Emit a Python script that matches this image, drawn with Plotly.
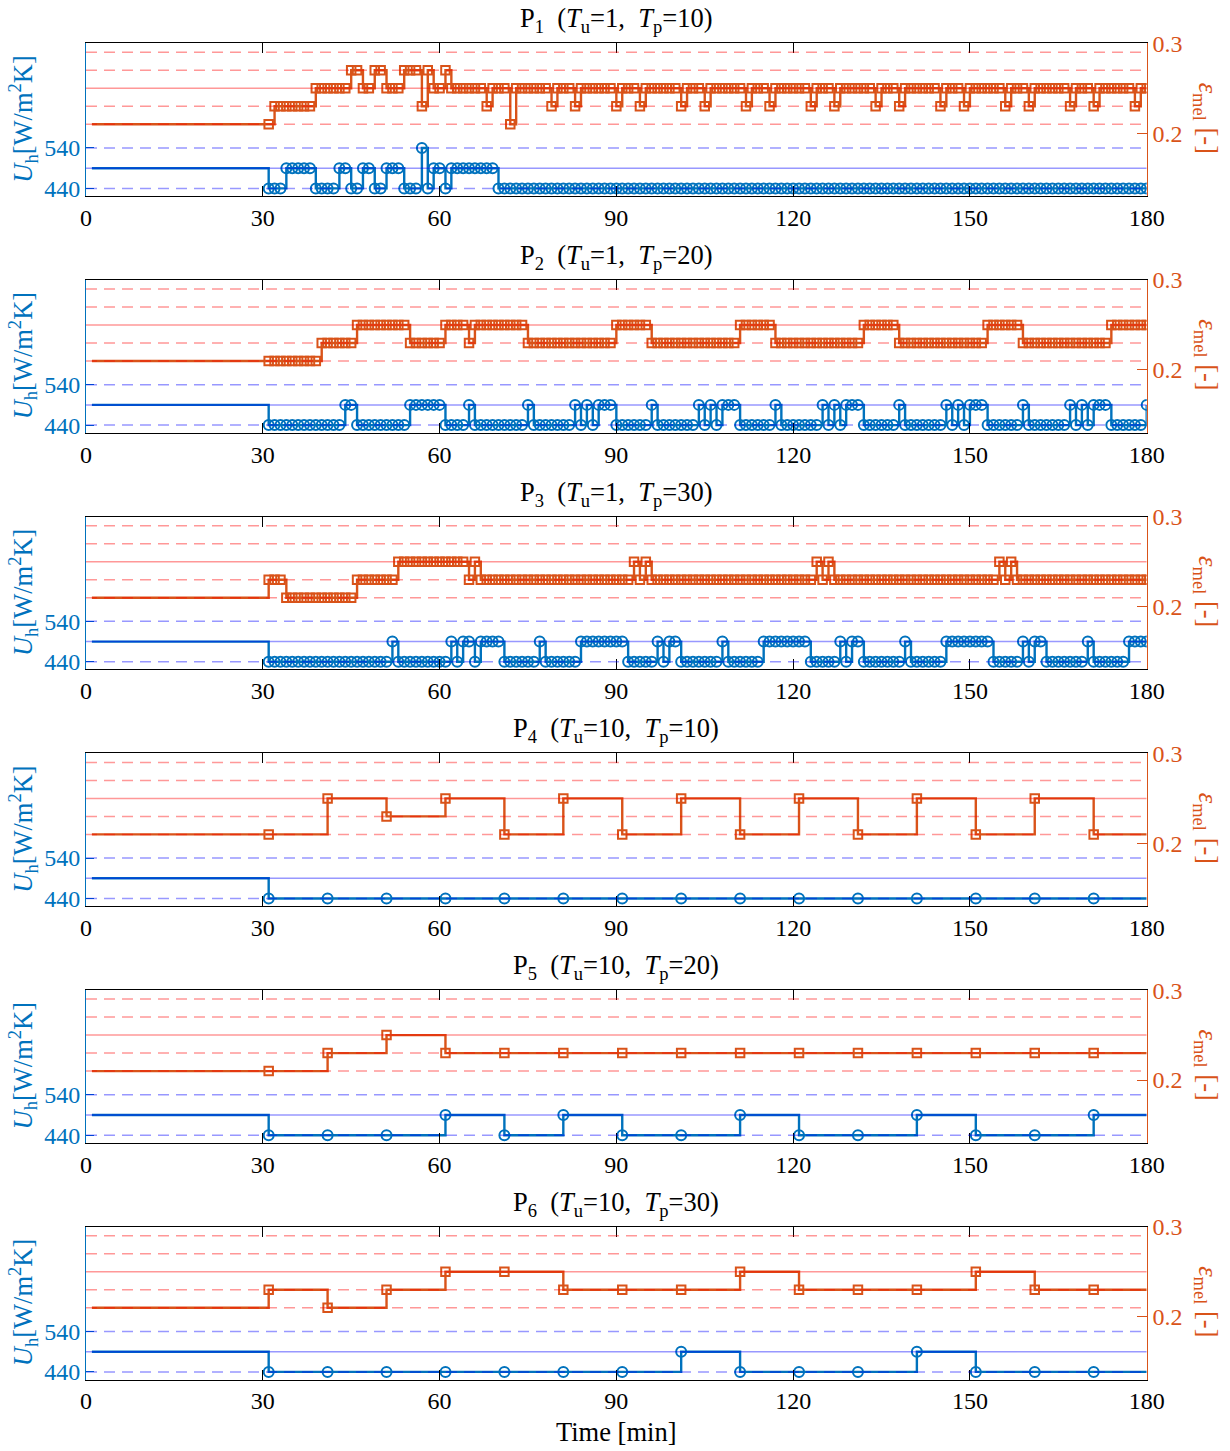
import plotly.graph_objects as go

W, H = 1230, 1451

# ---------------- data ----------------
t_start = 1            # first time stamp of the pre-control segment [min]
t_end = 180            # last time on the axis [min]
t_fast = list(range(31, 181))       # sampling times, T_u = 1 min
t_slow = list(range(31, 172, 10))   # sampling times, T_u = 10 min

U_init = 490      # U_h before control starts
eps_init = 0.21   # eps_mel before control starts

Tu = [1, 1, 1, 10, 10, 10]
Tp = [10, 20, 30, 10, 20, 30]

U_p1 = [440, 440, 440, 490, 490, 490, 490, 490, 440, 440,
        440, 440, 490, 490, 440, 440, 490, 490, 440, 440,
        490, 490, 490, 440, 440, 440, 540, 440, 490, 490,
        440, 490, 490, 490, 490, 490, 490, 490, 490, 440,
        440, 440, 440, 440, 440, 440, 440, 440, 440, 440,
        440, 440, 440, 440, 440, 440, 440, 440, 440, 440,
        440, 440, 440, 440, 440, 440, 440, 440, 440, 440,
        440, 440, 440, 440, 440, 440, 440, 440, 440, 440,
        440, 440, 440, 440, 440, 440, 440, 440, 440, 440,
        440, 440, 440, 440, 440, 440, 440, 440, 440, 440,
        440, 440, 440, 440, 440, 440, 440, 440, 440, 440,
        440, 440, 440, 440, 440, 440, 440, 440, 440, 440,
        440, 440, 440, 440, 440, 440, 440, 440, 440, 440,
        440, 440, 440, 440, 440, 440, 440, 440, 440, 440,
        440, 440, 440, 440, 440, 440, 440, 440, 440, 440]
eps_p1 = [0.21, 0.23, 0.23, 0.23, 0.23, 0.23, 0.23, 0.23, 0.25, 0.25,
          0.25, 0.25, 0.25, 0.25, 0.27, 0.27, 0.25, 0.25, 0.27, 0.27,
          0.25, 0.25, 0.25, 0.27, 0.27, 0.27, 0.23, 0.27, 0.25, 0.25,
          0.27, 0.25, 0.25, 0.25, 0.25, 0.25, 0.25, 0.23, 0.25, 0.25,
          0.25, 0.21, 0.25, 0.25, 0.25, 0.25, 0.25, 0.25, 0.23, 0.25,
          0.25, 0.25, 0.23, 0.25, 0.25, 0.25, 0.25, 0.25, 0.25, 0.23,
          0.25, 0.25, 0.25, 0.23, 0.25, 0.25, 0.25, 0.25, 0.25, 0.25,
          0.23, 0.25, 0.25, 0.25, 0.23, 0.25, 0.25, 0.25, 0.25, 0.25,
          0.25, 0.23, 0.25, 0.25, 0.25, 0.23, 0.25, 0.25, 0.25, 0.25,
          0.25, 0.25, 0.23, 0.25, 0.25, 0.25, 0.23, 0.25, 0.25, 0.25,
          0.25, 0.25, 0.25, 0.23, 0.25, 0.25, 0.25, 0.23, 0.25, 0.25,
          0.25, 0.25, 0.25, 0.25, 0.23, 0.25, 0.25, 0.25, 0.23, 0.25,
          0.25, 0.25, 0.25, 0.25, 0.25, 0.23, 0.25, 0.25, 0.25, 0.23,
          0.25, 0.25, 0.25, 0.25, 0.25, 0.25, 0.23, 0.25, 0.25, 0.25,
          0.23, 0.25, 0.25, 0.25, 0.25, 0.25, 0.25, 0.23, 0.25, 0.25]

U_p2 = [440, 440, 440, 440, 440, 440, 440, 440, 440, 440,
        440, 440, 440, 490, 490, 440, 440, 440, 440, 440,
        440, 440, 440, 440, 490, 490, 490, 490, 490, 490,
        440, 440, 440, 440, 490, 440, 440, 440, 440, 440,
        440, 440, 440, 440, 490, 440, 440, 440, 440, 440,
        440, 440, 490, 440, 490, 440, 490, 490, 490, 440,
        440, 440, 440, 440, 440, 490, 440, 440, 440, 440,
        440, 440, 440, 490, 440, 490, 440, 490, 490, 490,
        440, 440, 440, 440, 440, 440, 490, 440, 440, 440,
        440, 440, 440, 440, 490, 440, 490, 440, 490, 490,
        490, 440, 440, 440, 440, 440, 440, 490, 440, 440,
        440, 440, 440, 440, 440, 490, 440, 490, 440, 490,
        490, 490, 440, 440, 440, 440, 440, 440, 490, 440,
        440, 440, 440, 440, 440, 440, 490, 440, 490, 440,
        490, 490, 490, 440, 440, 440, 440, 440, 440, 490]
eps_p2 = [0.21, 0.21, 0.21, 0.21, 0.21, 0.21, 0.21, 0.21, 0.21, 0.23,
          0.23, 0.23, 0.23, 0.23, 0.23, 0.25, 0.25, 0.25, 0.25, 0.25,
          0.25, 0.25, 0.25, 0.25, 0.23, 0.23, 0.23, 0.23, 0.23, 0.23,
          0.25, 0.25, 0.25, 0.25, 0.23, 0.25, 0.25, 0.25, 0.25, 0.25,
          0.25, 0.25, 0.25, 0.25, 0.23, 0.23, 0.23, 0.23, 0.23, 0.23,
          0.23, 0.23, 0.23, 0.23, 0.23, 0.23, 0.23, 0.23, 0.23, 0.25,
          0.25, 0.25, 0.25, 0.25, 0.25, 0.23, 0.23, 0.23, 0.23, 0.23,
          0.23, 0.23, 0.23, 0.23, 0.23, 0.23, 0.23, 0.23, 0.23, 0.23,
          0.25, 0.25, 0.25, 0.25, 0.25, 0.25, 0.23, 0.23, 0.23, 0.23,
          0.23, 0.23, 0.23, 0.23, 0.23, 0.23, 0.23, 0.23, 0.23, 0.23,
          0.23, 0.25, 0.25, 0.25, 0.25, 0.25, 0.25, 0.23, 0.23, 0.23,
          0.23, 0.23, 0.23, 0.23, 0.23, 0.23, 0.23, 0.23, 0.23, 0.23,
          0.23, 0.23, 0.25, 0.25, 0.25, 0.25, 0.25, 0.25, 0.23, 0.23,
          0.23, 0.23, 0.23, 0.23, 0.23, 0.23, 0.23, 0.23, 0.23, 0.23,
          0.23, 0.23, 0.23, 0.25, 0.25, 0.25, 0.25, 0.25, 0.25, 0.25]

U_p3 = [440, 440, 440, 440, 440, 440, 440, 440, 440, 440,
        440, 440, 440, 440, 440, 440, 440, 440, 440, 440,
        440, 490, 440, 440, 440, 440, 440, 440, 440, 440,
        440, 490, 440, 490, 490, 440, 490, 490, 490, 490,
        440, 440, 440, 440, 440, 440, 490, 440, 440, 440,
        440, 440, 440, 490, 490, 490, 490, 490, 490, 490,
        490, 440, 440, 440, 440, 440, 490, 440, 490, 490,
        440, 440, 440, 440, 440, 440, 440, 490, 440, 440,
        440, 440, 440, 440, 490, 490, 490, 490, 490, 490,
        490, 490, 440, 440, 440, 440, 440, 490, 440, 490,
        490, 440, 440, 440, 440, 440, 440, 440, 490, 440,
        440, 440, 440, 440, 440, 490, 490, 490, 490, 490,
        490, 490, 490, 440, 440, 440, 440, 440, 490, 440,
        490, 490, 440, 440, 440, 440, 440, 440, 440, 490,
        440, 440, 440, 440, 440, 440, 490, 490, 490, 490]
eps_p3 = [0.23, 0.23, 0.23, 0.21, 0.21, 0.21, 0.21, 0.21, 0.21, 0.21,
          0.21, 0.21, 0.21, 0.21, 0.21, 0.23, 0.23, 0.23, 0.23, 0.23,
          0.23, 0.23, 0.25, 0.25, 0.25, 0.25, 0.25, 0.25, 0.25, 0.25,
          0.25, 0.25, 0.25, 0.25, 0.23, 0.25, 0.23, 0.23, 0.23, 0.23,
          0.23, 0.23, 0.23, 0.23, 0.23, 0.23, 0.23, 0.23, 0.23, 0.23,
          0.23, 0.23, 0.23, 0.23, 0.23, 0.23, 0.23, 0.23, 0.23, 0.23,
          0.23, 0.23, 0.25, 0.23, 0.25, 0.23, 0.23, 0.23, 0.23, 0.23,
          0.23, 0.23, 0.23, 0.23, 0.23, 0.23, 0.23, 0.23, 0.23, 0.23,
          0.23, 0.23, 0.23, 0.23, 0.23, 0.23, 0.23, 0.23, 0.23, 0.23,
          0.23, 0.23, 0.23, 0.25, 0.23, 0.25, 0.23, 0.23, 0.23, 0.23,
          0.23, 0.23, 0.23, 0.23, 0.23, 0.23, 0.23, 0.23, 0.23, 0.23,
          0.23, 0.23, 0.23, 0.23, 0.23, 0.23, 0.23, 0.23, 0.23, 0.23,
          0.23, 0.23, 0.23, 0.23, 0.25, 0.23, 0.25, 0.23, 0.23, 0.23,
          0.23, 0.23, 0.23, 0.23, 0.23, 0.23, 0.23, 0.23, 0.23, 0.23,
          0.23, 0.23, 0.23, 0.23, 0.23, 0.23, 0.23, 0.23, 0.23, 0.23]

U_p4 = [440, 440, 440, 440, 440, 440, 440, 440, 440, 440, 440, 440, 440, 440, 440]
eps_p4 = [0.21, 0.25, 0.23, 0.25, 0.21, 0.25, 0.21, 0.25, 0.21, 0.25, 0.21, 0.25, 0.21, 0.25, 0.21]

U_p5 = [440, 440, 440, 490, 440, 490, 440, 440, 490, 440, 440, 490, 440, 440, 490]
eps_p5 = [0.21, 0.23, 0.25, 0.23, 0.23, 0.23, 0.23, 0.23, 0.23, 0.23, 0.23, 0.23, 0.23, 0.23, 0.23]

U_p6 = [440, 440, 440, 440, 440, 440, 440, 490, 440, 440, 440, 490, 440, 440, 440]
eps_p6 = [0.23, 0.21, 0.23, 0.25, 0.25, 0.23, 0.23, 0.23, 0.25, 0.23, 0.23, 0.23, 0.25, 0.23, 0.23]

U_series = [U_p1, U_p2, U_p3, U_p4, U_p5, U_p6]
eps_series = [eps_p1, eps_p2, eps_p3, eps_p4, eps_p5, eps_p6]

# reference levels
U_ref_dashed = [440, 540]
U_ref_nominal = 490
eps_ref_dashed = [0.21, 0.23, 0.27, 0.29]
eps_ref_nominal = 0.25

x_ticks = [0, 30, 60, 90, 120, 150, 180]
U_ticks = [440, 540]
eps_ticks = [0.2, 0.3]
eps_ticktext = ["0.2", "0.3"]

# ---------------- styling ----------------
BLUE = "#0072BD"
ORANGE = "#D95319"
FONT = "Liberation Serif, Times New Roman, serif"
FS_TICK = 24
FS_TEXT = 26.5
NB = "\u00a0"

x_left_px, x_right_px = 86.0, 1146.7
top0, bot0, step = 43.3, 196.0, 236.7
U_range = [421.2, 798.9]
eps_range = [0.1303, 0.3]

fig = go.Figure()
layout = dict(width=W, height=H, autosize=False,
              margin=dict(l=0, r=0, t=0, b=0, pad=0, autoexpand=False),
              paper_bgcolor="white", plot_bgcolor="white", showlegend=False,
              font=dict(family=FONT, size=FS_TICK, color="black"))
shapes = []
annotations = []

for i in range(6):
    n = i + 1
    xid = "x" if n == 1 else f"x{n}"
    xname = "xaxis" if n == 1 else f"xaxis{n}"
    yl, yr = 2 * i + 1, 2 * i + 2
    ylid = "y" if yl == 1 else f"y{yl}"
    ylname = "yaxis" if yl == 1 else f"yaxis{yl}"
    yrid, yrname = f"y{yr}", f"yaxis{yr}"

    top_px = top0 + step * i
    bot_px = bot0 + step * i
    d0, d1 = 1 - bot_px / H, 1 - top_px / H

    t_samp = t_fast if Tu[i] == 1 else t_slow
    U = U_series[i]
    eps = eps_series[i]

    # stair lines (pre-control segment + controlled samples + hold to the end)
    fig.add_trace(go.Scatter(x=[t_start] + t_samp + [t_end], y=[U_init] + U + [U[-1]],
                             mode="lines", line=dict(color=BLUE, width=2.4, shape="hv"),
                             xaxis=xid, yaxis=ylid, hoverinfo="skip"))
    fig.add_trace(go.Scatter(x=t_samp, y=U, mode="markers",
                             marker=dict(symbol="circle-open", size=10, color=BLUE,
                                         line=dict(width=2, color=BLUE)),
                             xaxis=xid, yaxis=ylid, hoverinfo="skip"))
    fig.add_trace(go.Scatter(x=[t_start] + t_samp + [t_end], y=[eps_init] + eps + [eps[-1]],
                             mode="lines", line=dict(color=ORANGE, width=2.4, shape="hv"),
                             xaxis=xid, yaxis=yrid, hoverinfo="skip"))
    fig.add_trace(go.Scatter(x=t_samp, y=eps, mode="markers",
                             marker=dict(symbol="square-open", size=8.5, color=ORANGE,
                                         line=dict(width=2, color=ORANGE)),
                             xaxis=xid, yaxis=yrid, hoverinfo="skip"))

    layout[xname] = dict(domain=[x_left_px / W, x_right_px / W], anchor=ylid,
                         range=[0, 180], tickvals=x_ticks, ticks="inside", ticklen=10,
                         tickcolor="black", linecolor="black", linewidth=1, showline=True,
                         mirror="ticks", showgrid=False, zeroline=False, automargin=False,
                         tickfont=dict(family=FONT, size=FS_TICK, color="black"),
                         ticklabelstandoff=0)
    layout[ylname] = dict(domain=[d0, d1], anchor=xid, range=U_range, tickvals=U_ticks,
                          ticks="inside", ticklen=8, tickcolor=BLUE, linecolor=BLUE,
                          linewidth=1, showline=True, showgrid=False, zeroline=False,
                          automargin=False,
                          tickfont=dict(family=FONT, size=FS_TICK, color=BLUE))
    layout[yrname] = dict(domain=[d0, d1], anchor=xid, overlaying=ylid, side="right",
                          range=eps_range, tickvals=eps_ticks, ticktext=eps_ticktext,
                          ticks="inside", ticklen=10, tickcolor=ORANGE, linecolor=ORANGE,
                          linewidth=1, showline=True, showgrid=False, zeroline=False,
                          automargin=False,
                          tickfont=dict(family=FONT, size=FS_TICK, color=ORANGE))

    # reference levels (drawn on top, semi-transparent like the original)
    for v in eps_ref_dashed:
        shapes.append(dict(type="line", xref=xid, yref=yrid, x0=0, x1=180, y0=v, y1=v,
                           layer="above", opacity=0.4,
                           line=dict(color="red", width=1.5, dash="11px,7px")))
    shapes.append(dict(type="line", xref=xid, yref=yrid, x0=0, x1=180,
                       y0=eps_ref_nominal, y1=eps_ref_nominal, layer="above", opacity=0.4,
                       line=dict(color="red", width=1.5)))
    for v in U_ref_dashed:
        shapes.append(dict(type="line", xref=xid, yref=ylid, x0=0, x1=180, y0=v, y1=v,
                           layer="above", opacity=0.4,
                           line=dict(color="blue", width=1.5, dash="11px,7px")))
    shapes.append(dict(type="line", xref=xid, yref=ylid, x0=0, x1=180,
                       y0=U_ref_nominal, y1=U_ref_nominal, layer="above", opacity=0.4,
                       line=dict(color="blue", width=1.5)))

    # panel title
    title = (f"P<sub>{n}</sub>{NB}{NB}(<i>T</i><sub>u</sub>={Tu[i]},{NB}{NB}"
             f"<i>T</i><sub>p</sub>={Tp[i]})")
    annotations.append(dict(text=title, xref="paper", yref="paper",
                            x=(x_left_px + x_right_px) / 2 / W, y=1 - (top_px - 23) / H,
                            xanchor="center", yanchor="middle", showarrow=False,
                            font=dict(family=FONT, size=FS_TEXT, color="black")))
    # left axis label
    annotations.append(dict(text="<i>U</i><sub>h</sub>[W/m<sup>2</sup>K]", xref="paper",
                            yref="paper", x=23 / W, y=1 - (top_px + bot_px) / 2 / H,
                            xanchor="center", yanchor="middle", textangle=-90,
                            showarrow=False,
                            font=dict(family=FONT, size=FS_TEXT, color=BLUE)))
    # right axis label
    annotations.append(dict(text="<i>ε</i><sub>mel</sub>" + NB + "[-]", xref="paper",
                            yref="paper", x=1206 / W, y=1 - (top_px + bot_px - 4) / 2 / H,
                            xanchor="center", yanchor="middle", textangle=90,
                            showarrow=False,
                            font=dict(family=FONT, size=FS_TEXT, color=ORANGE)))

annotations.append(dict(text="Time [min]", xref="paper", yref="paper", x=616 / W,
                        y=1 - 1432 / H, xanchor="center", yanchor="middle", showarrow=False,
                        font=dict(family=FONT, size=FS_TEXT, color="black")))

layout["shapes"] = shapes
layout["annotations"] = annotations
fig.update_layout(**layout)
fig.write_html("out.html")
